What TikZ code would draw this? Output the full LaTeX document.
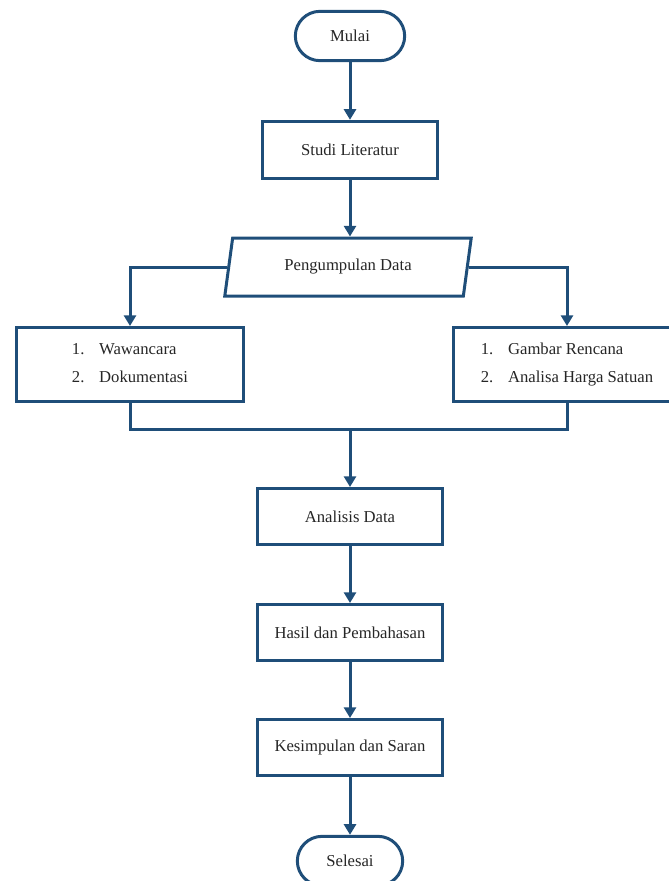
\documentclass[tikz,border=0pt]{standalone}
\usepackage{fontspec}
\setmainfont{Liberation Serif}
\usetikzlibrary{arrows.meta,shapes.geometric}
\definecolor{biru}{HTML}{1F4E79}

\begin{document}
\begin{tikzpicture}[x=0.75pt,y=-0.75pt,>={Triangle[length=8pt,width=9pt]},
  every node/.style={font=\fontsize{12.5}{15}\selectfont,text=black!85},
  garis/.style={draw=biru,line width=2.25pt},
  kotak/.style={garis,minimum width=139pt,minimum height=42pt,inner sep=0pt},
  terminal/.style={garis,rounded corners=18.5pt,minimum width=82pt,minimum height=37pt,inner sep=0pt},
  jajar/.style={garis,trapezium,trapezium stretches=true,trapezium left angle=74,trapezium right angle=106,minimum width=185pt,minimum height=43.5pt,inner sep=0pt},
  daftar/.style={garis,minimum width=170pt,minimum height=55.5pt,inner sep=0pt},
  panah/.style={draw=biru,line width=2.25pt}]
  \useasboundingbox (0,0) rectangle (668,881);
  % alur utama atas
  \node[terminal] (mulai) at (350,36) {Mulai};
  \node[kotak,minimum width=131pt,minimum height=43pt] (studi) at (350,150) {Studi Literatur};
  \node[jajar] (kumpul) at (348,267) {Pengumpulan Data};
  % dua cabang data
  \node[daftar] (kiri) at (130,364.5) {\begin{tabular}{@{}l@{\hspace{11pt}}l@{}}1. & Wawancara\\[6pt]2. & Dokumentasi\end{tabular}};
  \node[daftar] (kanan) at (567,364.5) {\begin{tabular}{@{}l@{\hspace{11pt}}l@{}}1. & Gambar Rencana\\[6pt]2. & Analisa Harga Satuan\end{tabular}};
  \coordinate (temu) at (350,429);
  % alur utama bawah
  \node[kotak] (analisis) at (350,516.5) {Analisis Data};
  \node[kotak] (hasil) at (350,632.5) {Hasil dan Pembahasan};
  \node[kotak] (simpul) at (350,747.5) {Kesimpulan dan Saran};
  \node[terminal,minimum width=79pt] (selesai) at (350,861) {Selesai};
  \draw[panah,->] (mulai) -- (studi);
  \draw[panah,->] (studi.south) -- (studi.south |- kumpul.north);
  \draw[panah,->] (kumpul.left side) -| (kiri.north);
  \draw[panah,->] (kumpul.right side) -| (kanan.north);
  \draw[panah] (kiri.south) |- (temu); \draw[panah] (kanan.south) |- (temu);
  \draw[panah,->] (temu) -- (analisis);
  \draw[panah,->] (analisis) -- (hasil);
  \draw[panah,->] (hasil) -- (simpul);
  \draw[panah,->] (simpul) -- (selesai);
\end{tikzpicture}
\end{document}
